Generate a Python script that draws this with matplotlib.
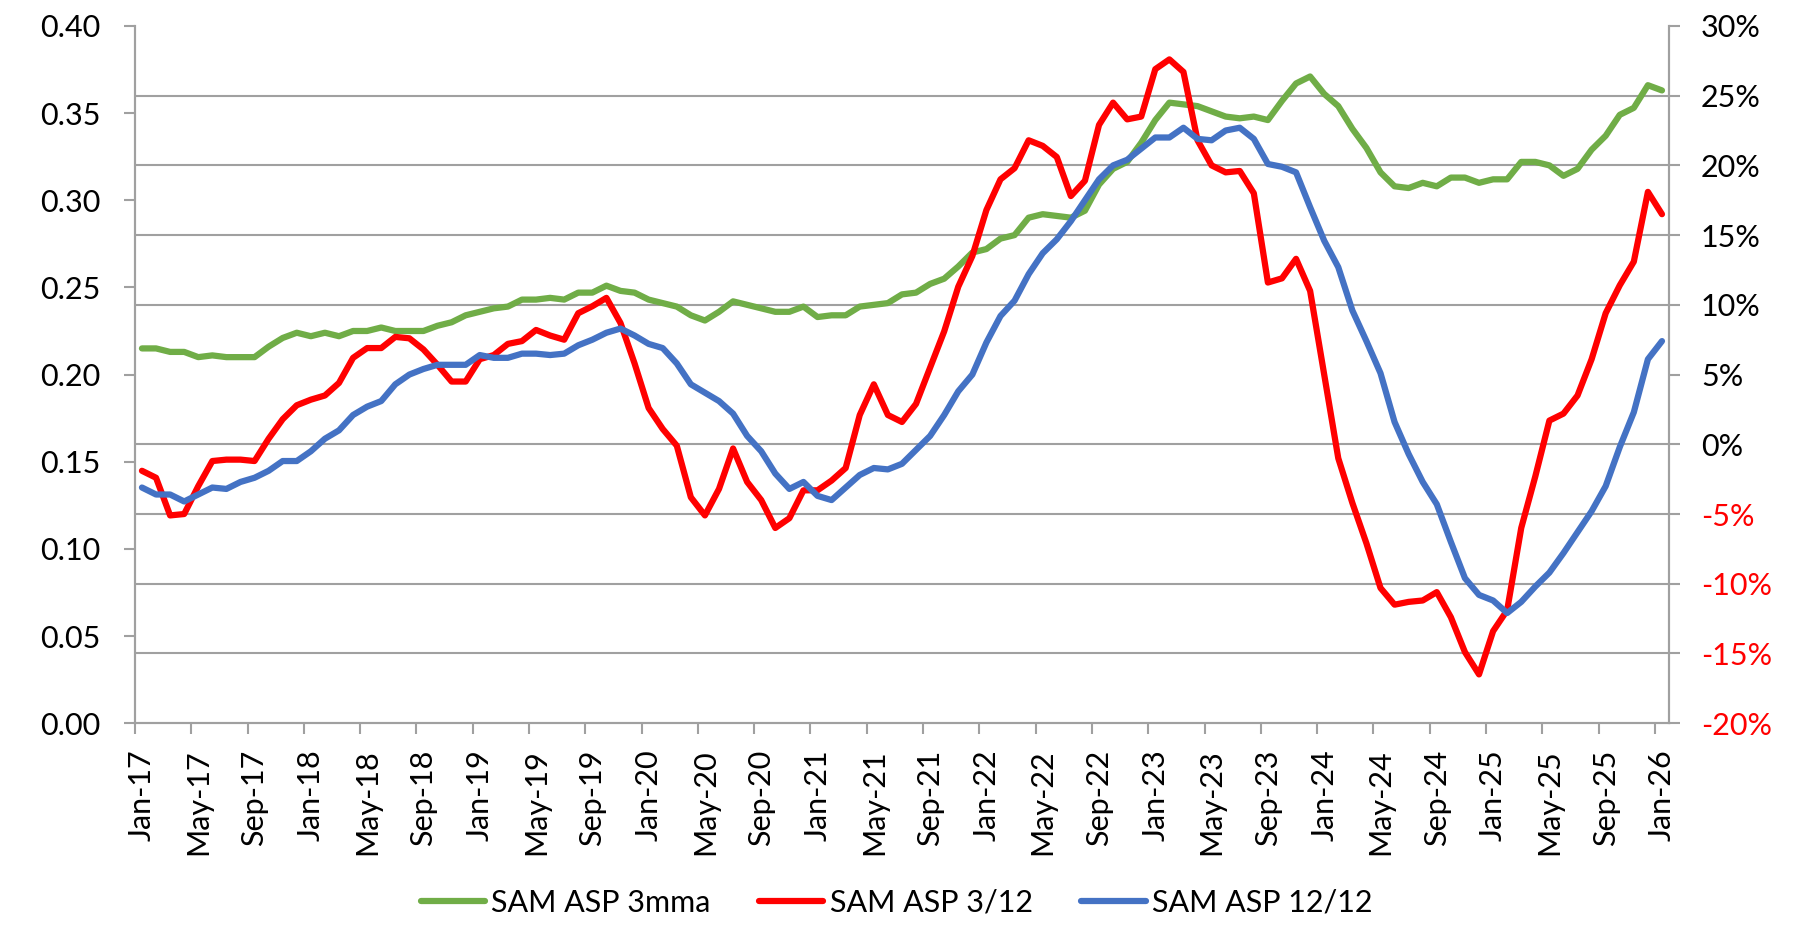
import numpy as np
import matplotlib
matplotlib.use('Agg')
import matplotlib.pyplot as plt
from matplotlib.ticker import FixedLocator

plt.rcParams['font.family'] = ['Lato', 'DejaVu Sans']

# Monthly, Jan-17 .. Jan-26 (109 months)
tick_labels = [f'{m}-{y:02d}' for y in range(17, 26) for m in ('Jan', 'May', 'Sep')] + ['Jan-26']

# SAM ASP 3mma (left axis)
asp_3mma = [
    0.215, 0.215, 0.213, 0.213, 0.210, 0.211, 0.210, 0.210, 0.210, 0.216,
    0.221, 0.224, 0.222, 0.224, 0.222, 0.225, 0.225, 0.227, 0.225, 0.225,
    0.225, 0.228, 0.230, 0.234, 0.236, 0.238, 0.239, 0.243, 0.243, 0.244,
    0.243, 0.247, 0.247, 0.251, 0.248, 0.247, 0.243, 0.241, 0.239, 0.234,
    0.231, 0.236, 0.242, 0.240, 0.238, 0.236, 0.236, 0.239, 0.233, 0.234,
    0.234, 0.239, 0.240, 0.241, 0.246, 0.247, 0.252, 0.255, 0.262, 0.270,
    0.272, 0.278, 0.280, 0.290, 0.292, 0.291, 0.290, 0.294, 0.309, 0.318,
    0.322, 0.333, 0.346, 0.356, 0.355, 0.354, 0.351, 0.348, 0.347, 0.348,
    0.346, 0.357, 0.367, 0.371, 0.361, 0.354, 0.341, 0.330, 0.316, 0.308,
    0.307, 0.310, 0.308, 0.313, 0.313, 0.310, 0.312, 0.312, 0.322, 0.322,
    0.320, 0.314, 0.318, 0.329, 0.337, 0.349, 0.353, 0.366, 0.363,
]

# SAM ASP 3/12 (right axis, %)
asp_3_12 = [
    -1.9, -2.4, -5.1, -5.0, -3.0, -1.2, -1.1, -1.1, -1.2, 0.4,
    1.8, 2.8, 3.2, 3.5, 4.4, 6.2, 6.9, 6.9, 7.7, 7.6,
    6.8, 5.7, 4.5, 4.5, 6.1, 6.4, 7.2, 7.4, 8.2, 7.8,
    7.5, 9.4, 9.9, 10.5, 8.7, 5.8, 2.6, 1.1, -0.1, -3.8,
    -5.1, -3.2, -0.3, -2.7, -4.0, -6.0, -5.3, -3.3, -3.3, -2.6,
    -1.7, 2.1, 4.3, 2.1, 1.6, 2.9, 5.5, 8.1, 11.3, 13.5,
    16.8, 19.0, 19.8, 21.8, 21.4, 20.6, 17.8, 18.9, 22.9, 24.5,
    23.3, 23.5, 26.9, 27.6, 26.7, 21.8, 20.0, 19.5, 19.6, 18.0,
    11.6, 11.9, 13.3, 11.0, 5.0, -1.0, -4.2, -7.1, -10.3, -11.5,
    -11.3, -11.2, -10.6, -12.4, -14.9, -16.5, -13.4, -11.9, -6.0, -2.3,
    1.7, 2.2, 3.5, 6.1, 9.4, 11.4, 13.1, 18.1, 16.5,
]

# SAM ASP 12/12 (right axis, %)
asp_12_12 = [
    -3.1, -3.6, -3.6, -4.1, -3.6, -3.1, -3.2, -2.7, -2.4, -1.9,
    -1.2, -1.2, -0.5, 0.4, 1.0, 2.1, 2.7, 3.1, 4.3, 5.0,
    5.4, 5.7, 5.7, 5.7, 6.4, 6.2, 6.2, 6.5, 6.5, 6.4,
    6.5, 7.1, 7.5, 8.0, 8.3, 7.8, 7.2, 6.9, 5.8, 4.3,
    3.7, 3.1, 2.2, 0.6, -0.5, -2.1, -3.2, -2.7, -3.7, -4.0,
    -3.1, -2.2, -1.7, -1.8, -1.4, -0.4, 0.6, 2.1, 3.8, 5.0,
    7.3, 9.2, 10.3, 12.2, 13.7, 14.7, 16.0, 17.5, 19.0, 20.0,
    20.4, 21.2, 22.0, 22.0, 22.7, 21.9, 21.8, 22.5, 22.7, 21.9,
    20.1, 19.9, 19.5, 17.0, 14.6, 12.7, 9.6, 7.4, 5.1, 1.6,
    -0.7, -2.7, -4.3, -7.0, -9.6, -10.8, -11.2, -12.1, -11.3, -10.2,
    -9.2, -7.8, -6.3, -4.8, -3.0, -0.2, 2.3, 6.1, 7.4,
]

GREEN = '#70AD47'
RED = '#FF0000'
BLUE = '#4472C4'
GRID = '#A0A0A0'
FS = 22

x = np.arange(len(asp_3mma))

fig = plt.figure(figsize=(18.11, 9.26), dpi=100)
ax = fig.add_axes([0.0745, 0.219, 0.8471, 0.753])
ax2 = ax.twinx()

ax.plot(x, asp_3mma, color=GREEN, lw=4.5, label='SAM ASP 3mma', solid_capstyle='round')
ax2.plot(x, asp_3_12, color=RED, lw=4.5, label='SAM ASP 3/12', solid_capstyle='round')
ax2.plot(x, asp_12_12, color=BLUE, lw=4.5, label='SAM ASP 12/12', solid_capstyle='round')

# axes ranges
ax.set_xlim(-0.5, len(x) - 0.5)
ax.set_ylim(0, 0.40)
ax2.set_ylim(-20, 30)

# left axis
ax.set_yticks(np.arange(0, 0.401, 0.05))
ax.set_yticklabels([f'{v:.2f}' for v in np.arange(0, 0.401, 0.05)])
# gridlines follow the right-hand axis
pct_ticks = np.arange(-20, 31, 5)
ax.yaxis.set_minor_locator(FixedLocator((pct_ticks + 20) / 50 * 0.40))
ax.grid(axis='y', which='minor', color=GRID, lw=1.5)
ax.set_axisbelow(True)
ax.tick_params(axis='y', which='minor', length=0)
ax.tick_params(axis='y', which='major', length=8, width=1.5, color=GRID,
               labelsize=FS, pad=17)

# right axis
ax2.set_yticks(pct_ticks)
ax2.set_yticklabels([f'{v}%' for v in pct_ticks])
for lab, v in zip(ax2.get_yticklabels(), pct_ticks):
    lab.set_color(RED if v < 0 else 'black')
ax2.tick_params(axis='y', length=8, width=1.5, color=GRID, labelsize=FS, pad=15)

# x axis: labels at month centres, tick marks at category boundaries
ax.set_xticks(np.arange(0, len(x), 4))
ax.set_xticklabels(tick_labels, rotation=90)
ax.xaxis.set_minor_locator(FixedLocator(np.arange(-0.5, len(x), 4)))
ax.tick_params(axis='x', which='major', length=0, labelsize=FS, pad=19)
ax.tick_params(axis='x', which='minor', length=8, width=1.5, color=GRID)

for a in (ax, ax2):
    for side in ('left', 'right', 'bottom', 'top'):
        a.spines[side].set_color(GRID)
        a.spines[side].set_linewidth(1.5)
    a.spines['top'].set_visible(False)

handles = ax.get_lines() + ax2.get_lines()
fig.legend(handles, [h.get_label() for h in handles], loc='center',
           bbox_to_anchor=(0.495, 0.025), ncol=3, frameon=False, fontsize=FS,
           handlelength=2.1, handletextpad=0.2, columnspacing=1.6)

fig.savefig('out.png', dpi=100)
